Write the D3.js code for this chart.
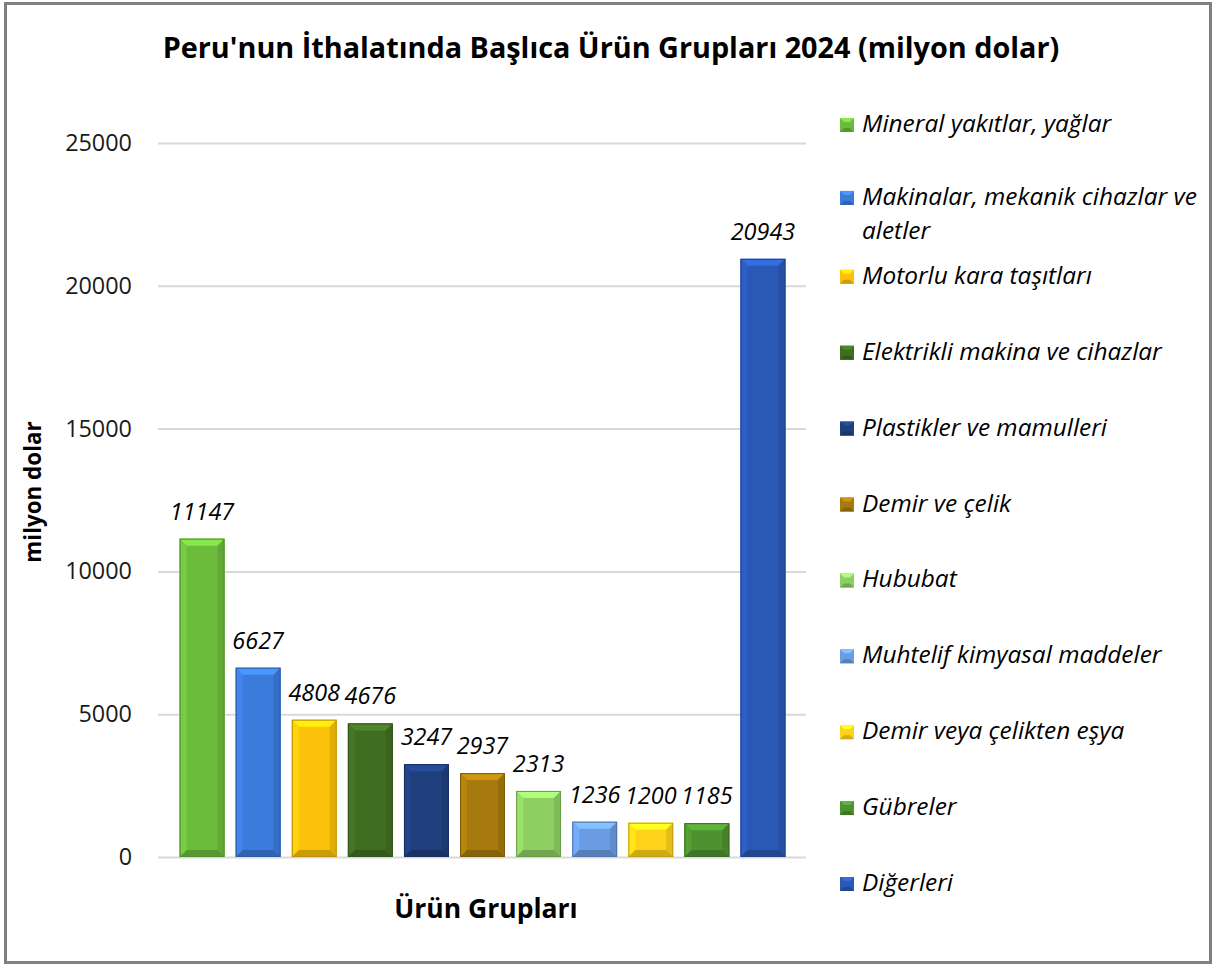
<!DOCTYPE html>
<html>
<head>
<meta charset="utf-8">
<script src="https://cdn.jsdelivr.net/npm/d3@7"></script>
<style>
  html, body { margin: 0; padding: 0; background: #fff; }
  svg { display: block; font-family: "Open Sans", sans-serif; }
</style>
</head>
<body>
<div id="chart"></div>
<script>
// data
var categories = [
  "Mineral yakıtlar, yağlar",
  "Makinalar, mekanik cihazlar ve aletler",
  "Motorlu kara taşıtları",
  "Elektrikli makina ve cihazlar",
  "Plastikler ve mamulleri",
  "Demir ve çelik",
  "Hububat",
  "Muhtelif kimyasal maddeler",
  "Demir veya çelikten eşya",
  "Gübreler",
  "Diğerleri"
];
var values = [11147, 6627, 4808, 4676, 3247, 2937, 2313, 1236, 1200, 1185, 20943];
var colors = ["#6dbb3c", "#3b7bdb", "#fcc10a", "#3f6e22", "#1f3f7e", "#a67a0c",
              "#8dcf63", "#6b9ce3", "#ffd21a", "#4e9130", "#2958b5"];
var yTicks = [0, 5000, 10000, 15000, 20000, 25000];

var W = 1213, H = 967;

var svg = d3.select("#chart").append("svg")
  .attr("width", W).attr("height", H);

// outer frame
svg.append("rect")
  .attr("x", 5.5).attr("y", 3.5)
  .attr("width", 1205).attr("height", 959)
  .attr("fill", "#fff")
  .attr("stroke", "#808080").attr("stroke-width", 3);

// title
svg.append("text")
  .attr("x", 611).attr("y", 58)
  .attr("text-anchor", "middle")
  .attr("font-size", "28.8px").attr("font-weight", "bold")
  .text("Peru'nun İthalatında Başlıca Ürün Grupları 2024 (milyon dolar)");

var x = d3.scaleBand()
  .domain(categories)
  .range([174, 791])
  .paddingInner(0.2)
  .paddingOuter(0.1);

var y = d3.scaleLinear()
  .domain([0, 25000])
  .range([857, 143]);

// gridlines
svg.append("g")
  .selectAll("line")
  .data(yTicks)
  .enter()
  .append("line")
  .attr("x1", 158).attr("x2", 806)
  .attr("y1", function(d) { return y(d) + 0.5; })
  .attr("y2", function(d) { return y(d) + 0.5; })
  .attr("stroke", "#d9d9d9").attr("stroke-width", 2);

// y axis labels
var yAxis = svg.append("g")
  .attr("transform", "translate(132,0)")
  .call(d3.axisLeft(y).tickValues(yTicks).tickFormat(d3.format("d")).tickSize(0).tickPadding(0));
yAxis.select(".domain").remove();
yAxis.selectAll("text")
  .attr("font-family", "'Open Sans', sans-serif")
  .attr("font-size", "23.4px")
  .attr("fill", "#1a1a1a");

// axis titles
svg.append("text")
  .attr("transform", "translate(41,492) rotate(-90)")
  .attr("text-anchor", "middle")
  .attr("font-size", "22.4px").attr("font-weight", "bold")
  .text("milyon dolar");

svg.append("text")
  .attr("x", 486).attr("y", 918)
  .attr("text-anchor", "middle")
  .attr("font-size", "26.5px").attr("font-weight", "bold")
  .text("Ürün Grupları");

// bevelled bars
var bev = 7;
var bars = svg.append("g")
  .selectAll("g")
  .data(categories)
  .enter()
  .append("g");

function px(i) { return x(categories[i]); }

bars.each(function(d, i) {
  var g = d3.select(this);
  var x0 = px(i), w = x.bandwidth(), x1 = x0 + w;
  var y0 = y(values[i]), y1 = y(0);
  var c = d3.color(colors[i]);
  var b = Math.min(bev, (y1 - y0) / 2);

  g.append("rect")
    .attr("x", x0).attr("y", y0)
    .attr("width", w).attr("height", y1 - y0)
    .attr("fill", c.formatHex());
  // top face
  g.append("polygon")
    .attr("points", [[x0, y0], [x1, y0], [x1 - b, y0 + b], [x0 + b, y0 + b]].join(" "))
    .attr("fill", c.brighter(0.6).formatHex());
  // left face
  g.append("polygon")
    .attr("points", [[x0, y0], [x0 + b, y0 + b], [x0 + b, y1 - b], [x0, y1]].join(" "))
    .attr("fill", c.brighter(0.25).formatHex());
  // right face
  g.append("polygon")
    .attr("points", [[x1, y0], [x1 - b, y0 + b], [x1 - b, y1 - b], [x1, y1]].join(" "))
    .attr("fill", c.darker(0.3).formatHex());
  // bottom face
  g.append("polygon")
    .attr("points", [[x0, y1], [x0 + b, y1 - b], [x1 - b, y1 - b], [x1, y1]].join(" "))
    .attr("fill", c.darker(0.6).formatHex());
  g.append("rect")
    .attr("x", x0 + 0.5).attr("y", y0 + 0.5)
    .attr("width", w - 1).attr("height", y1 - y0 - 1)
    .attr("fill", "none")
    .attr("stroke", c.darker(0.8).formatHex()).attr("stroke-width", 1);
});

// value labels
svg.append("g")
  .selectAll("text")
  .data(values)
  .enter()
  .append("text")
  .attr("x", function(d, i) { return px(i) + x.bandwidth() / 2; })
  .attr("y", function(d) { return y(d) - 19; })
  .attr("text-anchor", "middle")
  .attr("font-size", "23.4px").attr("font-style", "italic")
  .text(function(d) { return d; });

// legend
var ly = d3.scalePoint()
  .domain(categories)
  .range([124, 883]);

var legend = svg.append("g")
  .selectAll("g")
  .data(categories)
  .enter()
  .append("g")
  .attr("transform", function(d) {
    var off = d === "Makinalar, mekanik cihazlar ve aletler" ? -3 : 0;
    return "translate(840," + (ly(d) + off) + ")";
  });

legend.each(function(d, i) {
  var g = d3.select(this);
  var c = d3.color(colors[i]);
  var s = 14, b = 4;
  g.append("rect").attr("x", 0).attr("y", -s / 2 + 1).attr("width", s).attr("height", s)
    .attr("fill", c.formatHex());
  g.append("polygon")
    .attr("points", [[0, -s / 2 + 1], [s, -s / 2 + 1], [s - b, -s / 2 + 1 + b], [b, -s / 2 + 1 + b]].join(" "))
    .attr("fill", c.brighter(0.6).formatHex());
  g.append("polygon")
    .attr("points", [[0, s / 2 + 1], [b, s / 2 + 1 - b], [s - b, s / 2 + 1 - b], [s, s / 2 + 1]].join(" "))
    .attr("fill", c.darker(0.6).formatHex());

  var t = g.append("text")
    .attr("x", 22).attr("y", 8)
    .attr("font-size", "24.4px").attr("font-style", "italic");
  if (d === "Makinalar, mekanik cihazlar ve aletler") {
    t.append("tspan").attr("x", 22).attr("y", 8).text("Makinalar, mekanik cihazlar ve");
    t.append("tspan").attr("x", 22).attr("y", 42).text("aletler");
  } else {
    t.text(d);
  }
});
</script>
</body>
</html>
